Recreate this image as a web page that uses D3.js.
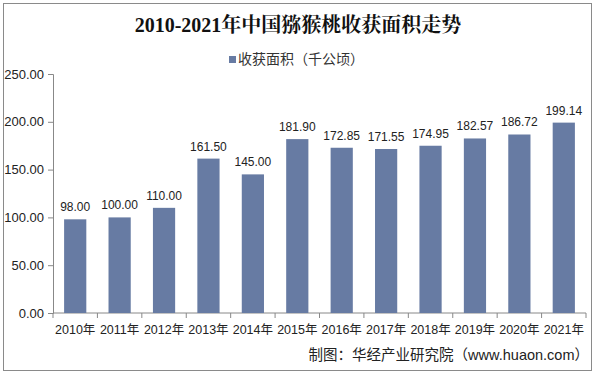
<!DOCTYPE html>
<html>
<head>
<meta charset="utf-8">
<script src="https://cdn.jsdelivr.net/npm/d3@7"></script>
<style>
  body { margin: 0; background: #fff; }
  svg { display: block; }
</style>
</head>
<body>
<div id="container"></div>
<script>
/* DATA */
const years = ["2010年","2011年","2012年","2013年","2014年","2015年","2016年","2017年","2018年","2019年","2020年","2021年"];
const area = [98.00, 100.00, 110.00, 161.50, 145.00, 181.90, 172.85, 171.55, 174.95, 182.57, 186.72, 199.14];
const yTicks = [0, 50, 100, 150, 200, 250];
const seriesName = "收获面积（千公顷）";
const title = "2010-2021年中国猕猴桃收获面积走势";
const source = "制图：华经产业研究院（www.huaon.com）";

/* CONSTANTS */
const width = 595, height = 374,
  margin = {top: 74, bottom: 61, left: 53, right: 9};
const barColor = "#677ba3";
const font = "'Liberation Sans', Arial, 'Noto Sans CJK SC', sans-serif";

const svg = d3.select("#container").append("svg")
  .attr("width", width)
  .attr("height", height);

// outer frame
svg.append("rect")
  .attr("x", 3.5).attr("y", 3.5)
  .attr("width", width - 7).attr("height", height - 7)
  .attr("fill", "#fff").attr("stroke", "#8a8a8a");

// SCALES
const xScale = d3.scaleBand()
  .domain(years)
  .range([margin.left, width - margin.right])
  .paddingInner(0.5).paddingOuter(0.25);

const yScale = d3.scaleLinear()
  .domain([0, 250])
  .range([height - margin.bottom, margin.top]);

// title
svg.append("text")
  .attr("x", 298).attr("y", 32)
  .attr("text-anchor", "middle")
  .attr("font-family", "'Liberation Serif', 'Noto Serif CJK SC', 'Noto Sans CJK SC', serif")
  .attr("font-weight", "bold")
  .attr("font-size", 20)
  .attr("fill", "#111")
  .text(title);

// legend
svg.append("rect")
  .attr("x", 229).attr("y", 56)
  .attr("width", 7).attr("height", 7)
  .attr("fill", barColor);
svg.append("text")
  .attr("x", 238).attr("y", 64)
  .attr("font-family", font)
  .attr("font-size", 14)
  .attr("fill", "#333")
  .text(seriesName);

// AXES
const yAxis = d3.axisLeft(yScale)
  .tickValues(yTicks)
  .tickFormat(d3.format(".2f"))
  .tickSize(5).tickPadding(4);

const yG = svg.append("g")
  .attr("transform", `translate(${margin.left},0)`)
  .call(yAxis);
yG.selectAll("path, line").attr("stroke", "#888");
yG.selectAll("text")
  .attr("font-family", font).attr("font-size", 13).attr("fill", "#222");

const step = xScale.step();
const xBase = height - margin.bottom;
const xG = svg.append("g")
  .attr("transform", `translate(0,${xBase})`);
xG.append("line")
  .attr("x1", margin.left).attr("x2", width - margin.right)
  .attr("stroke", "#888");
xG.selectAll(".tk")
  .data(d3.range(years.length + 1))
  .join("line")
  .attr("class", "tk")
  .attr("x1", i => margin.left + i * step)
  .attr("x2", i => margin.left + i * step)
  .attr("y1", 0).attr("y2", 5)
  .attr("stroke", "#888");
xG.selectAll(".lbl")
  .data(years)
  .join("text")
  .attr("class", "lbl")
  .attr("x", d => xScale(d) + xScale.bandwidth() / 2)
  .attr("y", 21)
  .attr("text-anchor", "middle")
  .attr("font-family", font).attr("font-size", 12.5).attr("fill", "#222")
  .text(d => d);

// BARS
svg.selectAll(".bar")
  .data(area)
  .join("rect")
  .attr("class", "bar")
  .attr("x", (d, i) => xScale(years[i]))
  .attr("y", d => yScale(d))
  .attr("width", xScale.bandwidth())
  .attr("height", d => yScale(0) - yScale(d))
  .attr("fill", barColor);

svg.selectAll(".val")
  .data(area)
  .join("text")
  .attr("class", "val")
  .attr("x", (d, i) => xScale(years[i]) + xScale.bandwidth() / 2)
  .attr("y", d => yScale(d) - 8)
  .attr("text-anchor", "middle")
  .attr("font-family", font).attr("font-size", 12).attr("fill", "#222")
  .text(d => d.toFixed(2));

// source
svg.append("text")
  .attr("x", 589).attr("y", 360)
  .attr("text-anchor", "end")
  .attr("font-family", font).attr("font-size", 14.5).attr("fill", "#222")
  .text(source);
</script>
</body>
</html>
